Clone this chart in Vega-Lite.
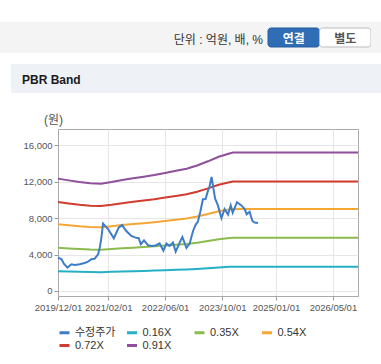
{
  "$schema": "https://vega.github.io/schema/vega-lite/v6.json",
  "padding": {"top": 22, "left": 0, "right": 0, "bottom": 0},
  "background": "white",
  "config": {
    "font": "Liberation Sans, Noto Sans CJK KR",
    "view": {"stroke": null},
    "concat": {"spacing": 0}
  },
  "datasets": {
    "bands": [
      {"date": "2019-12-01", "series": "0.16X", "value": 2170}, {"date": "2020-03-01", "series": "0.16X", "value": 2136}, {"date": "2020-06-01", "series": "0.16X", "value": 2104}, {"date": "2020-09-01", "series": "0.16X", "value": 2080}, {"date": "2020-12-01", "series": "0.16X", "value": 2072}, {"date": "2021-03-01", "series": "0.16X", "value": 2104}, {"date": "2021-06-01", "series": "0.16X", "value": 2144}, {"date": "2021-09-01", "series": "0.16X", "value": 2176}, {"date": "2021-12-01", "series": "0.16X", "value": 2208}, {"date": "2022-03-01", "series": "0.16X", "value": 2240}, {"date": "2022-06-01", "series": "0.16X", "value": 2280}, {"date": "2022-09-01", "series": "0.16X", "value": 2320}, {"date": "2022-12-01", "series": "0.16X", "value": 2360}, {"date": "2023-03-01", "series": "0.16X", "value": 2424}, {"date": "2023-06-01", "series": "0.16X", "value": 2504}, {"date": "2023-09-01", "series": "0.16X", "value": 2592}, {"date": "2023-12-01", "series": "0.16X", "value": 2656}, {"date": "2024-01-01", "series": "0.16X", "value": 2672}, {"date": "2026-12-01", "series": "0.16X", "value": 2672},
      {"date": "2019-12-01", "series": "0.35X", "value": 4746}, {"date": "2020-03-01", "series": "0.35X", "value": 4673}, {"date": "2020-06-01", "series": "0.35X", "value": 4603}, {"date": "2020-09-01", "series": "0.35X", "value": 4550}, {"date": "2020-12-01", "series": "0.35X", "value": 4533}, {"date": "2021-03-01", "series": "0.35X", "value": 4603}, {"date": "2021-06-01", "series": "0.35X", "value": 4690}, {"date": "2021-09-01", "series": "0.35X", "value": 4760}, {"date": "2021-12-01", "series": "0.35X", "value": 4830}, {"date": "2022-03-01", "series": "0.35X", "value": 4900}, {"date": "2022-06-01", "series": "0.35X", "value": 4988}, {"date": "2022-09-01", "series": "0.35X", "value": 5075}, {"date": "2022-12-01", "series": "0.35X", "value": 5163}, {"date": "2023-03-01", "series": "0.35X", "value": 5303}, {"date": "2023-06-01", "series": "0.35X", "value": 5478}, {"date": "2023-09-01", "series": "0.35X", "value": 5670}, {"date": "2023-12-01", "series": "0.35X", "value": 5810}, {"date": "2024-01-01", "series": "0.35X", "value": 5845}, {"date": "2026-12-01", "series": "0.35X", "value": 5845},
      {"date": "2019-12-01", "series": "0.54X", "value": 7322}, {"date": "2020-03-01", "series": "0.54X", "value": 7209}, {"date": "2020-06-01", "series": "0.54X", "value": 7101}, {"date": "2020-09-01", "series": "0.54X", "value": 7020}, {"date": "2020-12-01", "series": "0.54X", "value": 6993}, {"date": "2021-03-01", "series": "0.54X", "value": 7101}, {"date": "2021-06-01", "series": "0.54X", "value": 7236}, {"date": "2021-09-01", "series": "0.54X", "value": 7344}, {"date": "2021-12-01", "series": "0.54X", "value": 7452}, {"date": "2022-03-01", "series": "0.54X", "value": 7560}, {"date": "2022-06-01", "series": "0.54X", "value": 7695}, {"date": "2022-09-01", "series": "0.54X", "value": 7830}, {"date": "2022-12-01", "series": "0.54X", "value": 7965}, {"date": "2023-03-01", "series": "0.54X", "value": 8181}, {"date": "2023-06-01", "series": "0.54X", "value": 8451}, {"date": "2023-09-01", "series": "0.54X", "value": 8748}, {"date": "2023-12-01", "series": "0.54X", "value": 8964}, {"date": "2024-01-01", "series": "0.54X", "value": 9018}, {"date": "2026-12-01", "series": "0.54X", "value": 9018},
      {"date": "2019-12-01", "series": "0.72X", "value": 9763}, {"date": "2020-03-01", "series": "0.72X", "value": 9612}, {"date": "2020-06-01", "series": "0.72X", "value": 9468}, {"date": "2020-09-01", "series": "0.72X", "value": 9360}, {"date": "2020-12-01", "series": "0.72X", "value": 9324}, {"date": "2021-03-01", "series": "0.72X", "value": 9468}, {"date": "2021-06-01", "series": "0.72X", "value": 9648}, {"date": "2021-09-01", "series": "0.72X", "value": 9792}, {"date": "2021-12-01", "series": "0.72X", "value": 9936}, {"date": "2022-03-01", "series": "0.72X", "value": 10080}, {"date": "2022-06-01", "series": "0.72X", "value": 10260}, {"date": "2022-09-01", "series": "0.72X", "value": 10440}, {"date": "2022-12-01", "series": "0.72X", "value": 10620}, {"date": "2023-03-01", "series": "0.72X", "value": 10908}, {"date": "2023-06-01", "series": "0.72X", "value": 11268}, {"date": "2023-09-01", "series": "0.72X", "value": 11664}, {"date": "2023-12-01", "series": "0.72X", "value": 11952}, {"date": "2024-01-01", "series": "0.72X", "value": 12024}, {"date": "2026-12-01", "series": "0.72X", "value": 12024},
      {"date": "2019-12-01", "series": "0.91X", "value": 12340}, {"date": "2020-03-01", "series": "0.91X", "value": 12149}, {"date": "2020-06-01", "series": "0.91X", "value": 11967}, {"date": "2020-09-01", "series": "0.91X", "value": 11830}, {"date": "2020-12-01", "series": "0.91X", "value": 11785}, {"date": "2021-03-01", "series": "0.91X", "value": 11967}, {"date": "2021-06-01", "series": "0.91X", "value": 12194}, {"date": "2021-09-01", "series": "0.91X", "value": 12376}, {"date": "2021-12-01", "series": "0.91X", "value": 12558}, {"date": "2022-03-01", "series": "0.91X", "value": 12740}, {"date": "2022-06-01", "series": "0.91X", "value": 12968}, {"date": "2022-09-01", "series": "0.91X", "value": 13195}, {"date": "2022-12-01", "series": "0.91X", "value": 13423}, {"date": "2023-03-01", "series": "0.91X", "value": 13787}, {"date": "2023-06-01", "series": "0.91X", "value": 14242}, {"date": "2023-09-01", "series": "0.91X", "value": 14742}, {"date": "2023-12-01", "series": "0.91X", "value": 15106}, {"date": "2024-01-01", "series": "0.91X", "value": 15197}, {"date": "2026-12-01", "series": "0.91X", "value": 15197}
    ],
    "price": [
      {"date": "2019-12-01", "series": "수정주가", "value": 3660}, {"date": "2019-12-31", "series": "수정주가", "value": 3480}, {"date": "2020-01-20", "series": "수정주가", "value": 3000}, {"date": "2020-02-20", "series": "수정주가", "value": 2560}, {"date": "2020-03-24", "series": "수정주가", "value": 2930}, {"date": "2020-04-21", "series": "수정주가", "value": 2850}, {"date": "2020-06-03", "series": "수정주가", "value": 2930}, {"date": "2020-07-15", "series": "수정주가", "value": 3080}, {"date": "2020-08-13", "series": "수정주가", "value": 3220}, {"date": "2020-09-11", "series": "수정주가", "value": 3480}, {"date": "2020-10-09", "series": "수정주가", "value": 3550}, {"date": "2020-11-07", "series": "수정주가", "value": 4030}, {"date": "2020-11-21", "series": "수정주가", "value": 4760}, {"date": "2020-12-05", "series": "수정주가", "value": 5860}, {"date": "2020-12-19", "series": "수정주가", "value": 7400},
      {"date": "2021-02-01", "series": "수정주가", "value": 6780}, {"date": "2021-03-21", "series": "수정주가", "value": 5790}, {"date": "2021-05-01", "series": "수정주가", "value": 6960}, {"date": "2021-05-30", "series": "수정주가", "value": 7250}, {"date": "2021-07-05", "series": "수정주가", "value": 6590}, {"date": "2021-08-17", "series": "수정주가", "value": 6040}, {"date": "2021-09-21", "series": "수정주가", "value": 5860}, {"date": "2021-10-19", "series": "수정주가", "value": 5800}, {"date": "2021-11-06", "series": "수정주가", "value": 5130}, {"date": "2021-12-03", "series": "수정주가", "value": 5570},
      {"date": "2022-01-07", "series": "수정주가", "value": 5020}, {"date": "2022-02-05", "series": "수정주가", "value": 4950}, {"date": "2022-03-12", "series": "수정주가", "value": 5000}, {"date": "2022-04-15", "series": "수정주가", "value": 5240}, {"date": "2022-05-17", "series": "수정주가", "value": 4440}, {"date": "2022-06-12", "series": "수정주가", "value": 5200}, {"date": "2022-07-09", "series": "수정주가", "value": 4950}, {"date": "2022-08-07", "series": "수정주가", "value": 5310}, {"date": "2022-08-30", "series": "수정주가", "value": 4320}, {"date": "2022-10-03", "series": "수정주가", "value": 5310}, {"date": "2022-10-26", "series": "수정주가", "value": 5930}, {"date": "2022-11-30", "series": "수정주가", "value": 4720}, {"date": "2022-12-27", "series": "수정주가", "value": 5200},
      {"date": "2023-01-25", "series": "수정주가", "value": 6590}, {"date": "2023-02-17", "series": "수정주가", "value": 7300}, {"date": "2023-03-07", "series": "수정주가", "value": 7600}, {"date": "2023-03-28", "series": "수정주가", "value": 8700}, {"date": "2023-04-19", "series": "수정주가", "value": 10080}, {"date": "2023-05-12", "series": "수정주가", "value": 10100}, {"date": "2023-06-01", "series": "수정주가", "value": 10990}, {"date": "2023-06-15", "series": "수정주가", "value": 11500}, {"date": "2023-07-02", "series": "수정주가", "value": 12530}, {"date": "2023-07-18", "series": "수정주가", "value": 11250}, {"date": "2023-08-01", "series": "수정주가", "value": 10150}, {"date": "2023-08-25", "series": "수정주가", "value": 9400}, {"date": "2023-09-24", "series": "수정주가", "value": 8000}, {"date": "2023-10-21", "series": "수정주가", "value": 9000}, {"date": "2023-11-19", "series": "수정주가", "value": 8400}, {"date": "2023-12-12", "series": "수정주가", "value": 9400}, {"date": "2023-12-29", "series": "수정주가", "value": 8600},
      {"date": "2024-02-04", "series": "수정주가", "value": 9750}, {"date": "2024-03-12", "series": "수정주가", "value": 9400}, {"date": "2024-04-09", "series": "수정주가", "value": 9000}, {"date": "2024-04-26", "series": "수정주가", "value": 8430}, {"date": "2024-05-21", "series": "수정주가", "value": 8710}, {"date": "2024-06-14", "series": "수정주가", "value": 7690}, {"date": "2024-07-03", "series": "수정주가", "value": 7510}, {"date": "2024-08-01", "series": "수정주가", "value": 7470}
    ]
  },
  "bounds": "full",
  "spacing": 11,
  "resolve": {"scale": {"color": "independent"}, "legend": {"color": "independent"}},
  "vconcat": [
    {
      "bounds": "flush",
      "spacing": 0,
      "hconcat": [
        {
          "width": 268, "height": 31,
          "view": {"fill": "#f4f4f4", "stroke": null},
          "data": {"values": [{"t": "단위 : 억원, 배, %"}]},
          "mark": {"type": "text", "align": "right", "baseline": "middle", "dx": -5, "dy": 2, "fontSize": 12, "color": "#333333"},
          "encoding": {
            "x": {"field": "t", "type": "nominal", "scale": {"type": "point", "align": 1, "padding": 0}, "axis": null},
            "text": {"field": "t"}
          }
        },
        {
          "width": 103, "height": 31,
          "view": {"fill": "#f4f4f4", "stroke": null},
          "data": {"values": [{"btn": "연결", "on": "y"}, {"btn": "별도", "on": "n"}]},
          "encoding": {
            "x": {"field": "btn", "type": "nominal", "scale": {"domain": ["연결", "별도"], "paddingInner": 0, "paddingOuter": 0}, "axis": null},
            "y": {"datum": "b", "type": "nominal", "scale": {"paddingInner": 0, "paddingOuter": 0.316}, "axis": null}
          },
          "layer": [
            {
              "mark": {"type": "rect", "cornerRadius": 3, "strokeWidth": 1},
              "encoding": {
                "fill": {"field": "on", "type": "nominal", "scale": {"domain": ["y", "n"], "range": ["#2f6db5", "#ffffff"]}, "legend": null},
                "stroke": {"field": "on", "type": "nominal", "scale": {"domain": ["y", "n"], "range": ["#275d9c", "#bcbcbc"]}, "legend": null}
              }
            },
            {
              "mark": {"type": "text", "fontSize": 12, "fontWeight": "bold", "baseline": "middle", "dy": 1},
              "encoding": {
                "text": {"field": "btn"},
                "color": {"field": "on", "type": "nominal", "scale": {"domain": ["y", "n"], "range": ["#ffffff", "#555555"]}, "legend": null}
              }
            }
          ]
        },
        {
          "width": 10, "height": 31,
          "view": {"fill": "#f4f4f4", "stroke": null},
          "data": {"values": [{}]},
          "mark": {"type": "point", "opacity": 0}
        }
      ]
    },
    {
      "bounds": "full",
      "spacing": 19,
      "resolve": {"scale": {"color": "independent"}, "legend": {"color": "independent"}},
      "vconcat": [
        {
          "bounds": "flush",
          "spacing": 0,
          "hconcat": [
            {"width": 11, "height": 29, "view": {"fill": "#ffffff", "stroke": null}, "data": {"values": [{}]}, "mark": {"type": "point", "opacity": 0}},
            {
              "width": 370, "height": 29,
              "view": {"fill": "#eef2f7", "stroke": null},
              "data": {"values": [{"t": "PBR Band"}]},
              "mark": {"type": "text", "align": "left", "baseline": "middle", "dx": 11, "dy": 1, "fontSize": 12, "fontWeight": "bold", "color": "#1a1a1a"},
              "encoding": {
                "x": {"field": "t", "type": "nominal", "scale": {"type": "point", "align": 0, "padding": 0}, "axis": null},
                "text": {"field": "t"}
              }
            }
          ]
        },
        {
          "bounds": "flush",
          "spacing": 0,
          "resolve": {"scale": {"color": "independent"}, "legend": {"color": "independent"}},
          "hconcat": [
            {"width": 58, "height": 10, "view": {"fill": "#ffffff", "stroke": null}, "data": {"values": [{}]}, "mark": {"type": "point", "opacity": 0}},
            {
              "width": 300, "height": 167,
              "view": {"stroke": "#aaaaaa"},
              "encoding": {
                "x": {
                  "field": "date", "type": "temporal",
                  "scale": {"type": "utc", "domain": [{"year": 2019, "month": 12, "date": 1, "utc": true}, {"year": 2026, "month": 12, "date": 1, "utc": true}]},
                  "axis": {
                    "title": null, "format": "%Y/%m/%d", "labelFlush": false, "labelOverlap": false,
                    "values": [
                      {"year": 2019, "month": 12, "date": 1, "utc": true},
                      {"year": 2021, "month": 2, "date": 1, "utc": true},
                      {"year": 2022, "month": 6, "date": 1, "utc": true},
                      {"year": 2023, "month": 10, "date": 1, "utc": true},
                      {"year": 2025, "month": 1, "date": 1, "utc": true},
                      {"year": 2026, "month": 5, "date": 1, "utc": true}
                    ],
                    "labelFontSize": 9.5, "labelColor": "#555555", "labelPadding": 2,
                    "tickSize": 4, "tickColor": "#999999", "domainColor": "#aaaaaa",
                    "grid": true, "gridColor": "#e6e6e6"
                  }
                },
                "y": {
                  "field": "value", "type": "quantitative",
                  "scale": {"domain": [-550, 17790], "nice": false, "zero": false},
                  "axis": {
                    "title": "(원)", "titleAngle": 0, "titleX": -5, "titleY": -10, "titleAlign": "center", "titleBaseline": "middle",
                    "titleFontSize": 12, "titleFontWeight": "normal", "titleColor": "#555555",
                    "values": [0, 4000, 8000, 12000, 16000], "format": ",.0f",
                    "labelFontSize": 9.5, "labelColor": "#555555", "labelPadding": 2,
                    "tickSize": 4, "tickColor": "#999999", "domainColor": "#aaaaaa",
                    "grid": true, "gridColor": "#e6e6e6"
                  }
                },
                "color": {
                  "field": "series", "type": "nominal",
                  "scale": {"domain": ["수정주가", "0.16X", "0.35X", "0.54X", "0.72X", "0.91X"], "range": ["#3d7cc9", "#26b0c6", "#8bbb4e", "#f5a736", "#d13c2f", "#8e4f9b"]},
                  "legend": {
                    "title": null, "orient": "bottom", "direction": "horizontal", "columns": 4, "gridAlign": "all",
                    "symbolType": "stroke", "symbolSize": 100, "symbolStrokeWidth": 3,
                    "labelFontSize": 11, "labelColor": "#333333", "labelOffset": 4,
                    "columnPadding": 4.5, "rowPadding": 0, "offset": 14
                  }
                }
              },
              "layer": [
                {"data": {"name": "bands"}, "mark": {"type": "line", "strokeWidth": 2}},
                {"data": {"name": "price"}, "mark": {"type": "line", "strokeWidth": 2}}
              ]
            }
          ]
        }
      ]
    }
  ]
}
